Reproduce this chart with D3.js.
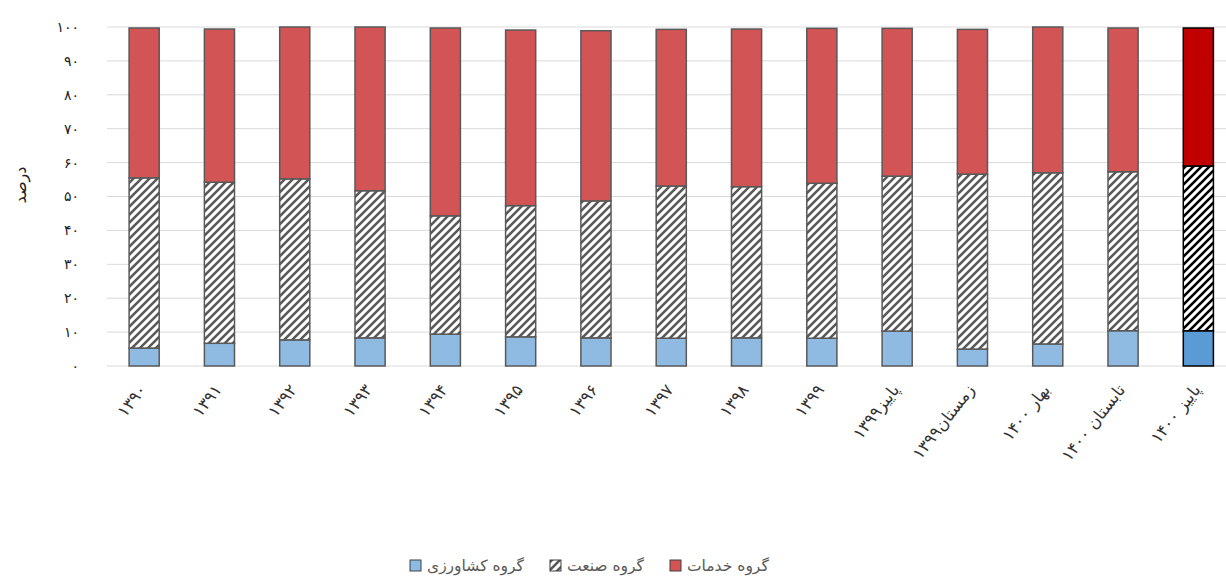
<!DOCTYPE html>
<html><head><meta charset="utf-8">
<script src="https://cdn.jsdelivr.net/npm/d3@7"></script>
<style>
html,body{margin:0;padding:0;background:#fff;}
svg{display:block;font-family:"DejaVu Sans",sans-serif;}
</style></head>
<body><svg id="c" width="1226" height="577"></svg>
<script>
const categories = ["۱۳۹۰","۱۳۹۱","۱۳۹۲","۱۳۹۳","۱۳۹۴","۱۳۹۵","۱۳۹۶","۱۳۹۷","۱۳۹۸","۱۳۹۹","پاییز۱۳۹۹","زمستان۱۳۹۹","بهار ۱۴۰۰","تابستان ۱۴۰۰","پاییز ۱۴۰۰"];
const agriculture = [5.3, 6.7, 7.7, 8.3, 9.4, 8.6, 8.3, 8.2, 8.3, 8.2, 10.3, 5.0, 6.5, 10.4, 10.4];
const industry    = [50.2, 47.5, 47.5, 43.4, 34.9, 38.7, 40.4, 44.9, 44.6, 45.7, 45.7, 51.6, 50.5, 46.9, 48.6];
const services    = [44.2, 45.2, 44.8, 48.3, 55.4, 51.8, 50.2, 46.2, 46.5, 45.7, 43.6, 42.7, 43.0, 42.4, 40.7];
const yTicks = [0,10,20,30,40,50,60,70,80,90,100];
const yTickLabels = ["۰","۱۰","۲۰","۳۰","۴۰","۵۰","۶۰","۷۰","۸۰","۹۰","۱۰۰"];
const seriesNames = ["گروه کشاورزی","گروه صنعت","گروه خدمات"];
const yTitle = "درصد";

const svg = d3.select("#c");
const defs = svg.append("defs");
function hatch(id, color){
  const p = defs.append("pattern").attr("id", id).attr("patternUnits","userSpaceOnUse")
    .attr("width", 8).attr("height", 8);
  p.append("rect").attr("width",8).attr("height",8).attr("fill","#fff");
  p.append("path").attr("d","M-2,2 L2,-2 M0,8 L8,0 M6,10 L10,6")
    .attr("stroke", color).attr("stroke-width", 2.6);
}
hatch("hatchGray", "#595959");
hatch("hatchBlack", "#000");

const x = d3.scaleBand().domain(categories).range([106.5, 1236]).paddingInner(0.6).paddingOuter(0.3);
const y = d3.scaleLinear().domain([0,100]).range([366, 27]);

// gridlines
svg.append("g").selectAll("line").data(yTicks).join("line")
  .attr("x1", 107).attr("x2", 1226)
  .attr("y1", d => y(d)).attr("y2", d => y(d))
  .attr("stroke", "#d9d9d9").attr("stroke-width", 1);

// y labels
svg.append("g").selectAll("text").data(yTicks).join("text")
  .attr("x", 79).attr("y", d => y(d)).attr("dy", "0.35em")
  .attr("text-anchor", "end").attr("font-size", 14).attr("fill", "#222")
  .text((d,i) => yTickLabels[i]);

svg.append("text").attr("transform", "translate(20,185) rotate(-90)")
  .attr("text-anchor","middle").attr("dy","0.35em").attr("font-size", 16).attr("fill","#222")
  .text(yTitle);

const last = categories.length - 1;
const rows = categories.map((c,i) => ({c, i, a: agriculture[i], n: industry[i], s: services[i]}));
const g = svg.append("g");
const bw = x.bandwidth();
rows.forEach(r => {
  const isLast = r.i === last;
  const stroke = isLast ? "#000" : "#595959";
  const segs = [
    {y0: 0, y1: r.a, fill: isLast ? "#5b9bd5" : "#8fbbe3"},
    {y0: r.a, y1: r.a + r.n, fill: isLast ? "url(#hatchBlack)" : "url(#hatchGray)"},
    {y0: r.a + r.n, y1: r.a + r.n + r.s, fill: isLast ? "#c00000" : "#d25454"}
  ];
  g.selectAll(null).data(segs).join("rect")
    .attr("x", x(r.c)).attr("width", bw)
    .attr("y", d => y(d.y1)).attr("height", d => y(d.y0) - y(d.y1))
    .attr("fill", d => d.fill).attr("stroke", stroke).attr("stroke-width", 1.5);
});

// x labels
svg.append("g").selectAll("text").data(categories).join("text")
  .attr("transform", d => `translate(${x(d) + bw/2 + 3},${390}) rotate(-52)`)
  .attr("text-anchor","end").attr("font-size", 16.5).attr("fill","#333")
  .text(d => d);

// legend
const legendItems = [
  {name: seriesNames[0], fill: "#8fbbe3"},
  {name: seriesNames[1], fill: "url(#hatchGray)"},
  {name: seriesNames[2], fill: "#d25454"}
];
const lg = svg.append("g");
let lx = 410;
legendItems.forEach(it => {
  lg.append("rect").attr("x", lx).attr("y", 560).attr("width", 11).attr("height", 11)
    .attr("fill", it.fill).attr("stroke", "#404040").attr("stroke-width", 1);
  const t = lg.append("text").attr("x", lx + 17).attr("y", 566).attr("dy","0.35em")
    .attr("font-size", 15.5).attr("fill", "#595959").text(it.name);
  lx += 17 + t.node().getComputedTextLength() + 26;
});
</script></body></html>
